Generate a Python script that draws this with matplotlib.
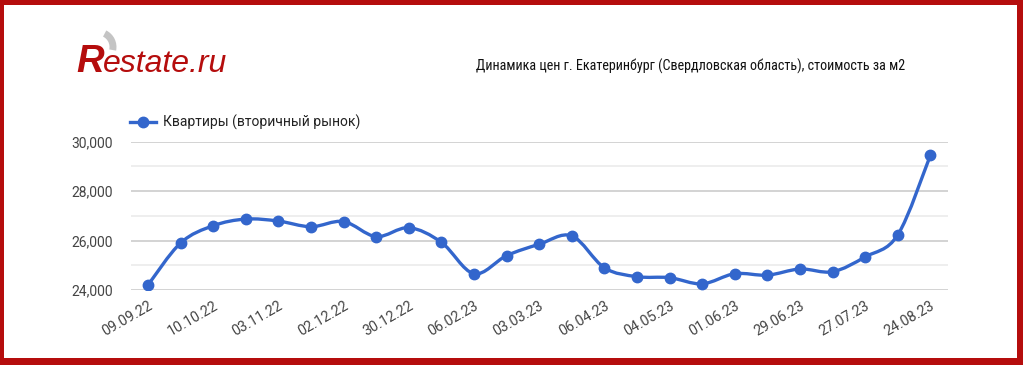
import matplotlib
matplotlib.use("Agg")
import matplotlib.pyplot as plt
from matplotlib.path import Path
from matplotlib.patches import PathPatch, Rectangle, Arc
from matplotlib.lines import Line2D
from matplotlib.ticker import FuncFormatter, MultipleLocator
from matplotlib import font_manager
import numpy as np

# ---- data ----
series_name = "Квартиры (вторичный рынок)"
values = [24200, 25900, 26600, 26870, 26790, 26560, 26770, 26160, 26520, 25930,
          24660, 25390, 25850, 26190, 24900, 24540, 24500, 24250, 24660, 24600,
          24850, 24740, 25340, 26230, 29450]
tick_labels = ["09.09.22", "10.10.22", "03.11.22", "02.12.22", "30.12.22", "06.02.23",
               "03.03.23", "06.04.23", "04.05.23", "01.06.23", "29.06.23", "27.07.23",
               "24.08.23"]
title = "Динамика цен г. Екатеринбург (Свердловская область), стоимость за м2"
logo_r = "R"
logo_rest = "estate.ru"

LINE = "#3366cc"
RED = "#b50d0d"

W, H = 1023, 365
fig = plt.figure(figsize=(W / 100, H / 100), dpi=100)
fig.patch.set_facecolor("white")

def fx(px):
    return px / W

def fy(py):
    return 1 - py / H

ax = fig.add_axes([fx(131), fy(290), fx(948 - 131), (290 - 141.7) / H])
x = np.arange(len(values))
y = np.array(values, dtype=float)

# smooth curve (Catmull-Rom -> cubic Bezier) through the data points
verts = [(x[0], y[0])]
codes = [Path.MOVETO]
n = len(x)
for i in range(n - 1):
    p0 = (x[max(i - 1, 0)], y[max(i - 1, 0)])
    p1 = (x[i], y[i])
    p2 = (x[i + 1], y[i + 1])
    p3 = (x[min(i + 2, n - 1)], y[min(i + 2, n - 1)])
    t = 1 / 6
    c1 = (p1[0] + (p2[0] - p0[0]) * t, p1[1] + (p2[1] - p0[1]) * t)
    c2 = (p2[0] - (p3[0] - p1[0]) * t, p2[1] - (p3[1] - p1[1]) * t)
    verts += [c1, c2, p2]
    codes += [Path.CURVE4] * 3
ax.add_patch(PathPatch(Path(verts, codes), facecolor="none", edgecolor=LINE,
                       lw=2.4, capstyle="round", joinstyle="round", zorder=3))
ax.plot(x, y, linestyle="none", marker="o", ms=7.5, color=LINE, zorder=4)

ax.set_xlim(-0.52, 24.54)
ax.set_ylim(24000, 30000)
for s in ax.spines.values():
    s.set_visible(False)
ax.yaxis.set_major_locator(MultipleLocator(2000))
ax.yaxis.set_minor_locator(MultipleLocator(1000))
ax.yaxis.set_major_formatter(FuncFormatter(lambda v, p: f"{int(v):,}"))
ax.grid(True, which="major", axis="y", color="#cccccc", lw=1.2, zorder=0)
ax.grid(True, which="minor", axis="y", color="#ebebeb", lw=1.2, zorder=0)
ax.tick_params(axis="y", which="both", length=0, pad=13, labelsize=10, labelcolor="#444444")
ax.set_xticks(x[::2])
ax.set_xticklabels(tick_labels, rotation=30, ha="right", rotation_mode="anchor",
                   fontsize=10.3, color="#444444")
ax.tick_params(axis="x", length=0, pad=6)
for lab in ax.get_yticklabels() + ax.get_xticklabels():
    lab.set_family(["Roboto", "DejaVu Sans"])

handle = Line2D([], [], color=LINE, lw=2.4, marker="o", ms=7.5)
leg = ax.legend([handle], [series_name], loc="lower left", bbox_to_anchor=(-0.008, 1.04),
                frameon=False, handlelength=1.85, handletextpad=0.5, borderaxespad=0,
                prop={"family": ["Roboto", "DejaVu Sans"], "size": 10})
for t_ in leg.get_texts():
    t_.set_color("#222222")

# title: prefer a condensed face if one is installed
names = {f.name for f in font_manager.fontManager.ttflist}
cond = [nm for nm in ["Liberation Sans Narrow", "DejaVu Sans Condensed", "Roboto Condensed",
                      "Open Sans Condensed", "Noto Sans Condensed"] if nm in names]
if cond:
    tfam, tsize = [cond[0], "DejaVu Sans"], 11.5
else:
    tfam, tsize = ["DejaVu Sans"], 11.5
title_txt = fig.text(fx(905), fy(66), title, ha="right", va="center", fontsize=tsize,
                     family=tfam, stretch="condensed", color="#111111")
# fit the title into its width in the reference (x 477..905)
fig.canvas.draw()
bb = title_txt.get_window_extent()
target = 905 - 477
if bb.width > target:
    title_txt.set_fontsize(tsize * target / bb.width)

# logo
fig.text(fx(76), fy(72), logo_r, ha="left", va="baseline", fontsize=27.5, style="italic",
         weight="bold", family=["Liberation Sans", "DejaVu Sans"], color=RED)
rest = fig.text(fx(103), fy(72), logo_rest, ha="left", va="baseline", fontsize=23, style="italic",
                family=["Liberation Sans", "DejaVu Sans"], color=RED)
fig.add_artist(Arc((fx(98), fy(47)), fx(30), 30 / H, theta1=-30, theta2=80,
                   transform=fig.transFigure, color="#c4c4c4", lw=5, zorder=0))

# red frame
frame = [(0, 0, W, 5), (0, 0, 4, H), (0, H - 7, W, 7), (W - 6, 0, 6, H)]
for (x0, y0, w, h) in frame:
    fig.add_artist(Rectangle((fx(x0), fy(y0 + h)), fx(w), h / H, transform=fig.transFigure,
                             facecolor=RED, edgecolor="none"))

fig.savefig("out.png", dpi=100, facecolor="white")
